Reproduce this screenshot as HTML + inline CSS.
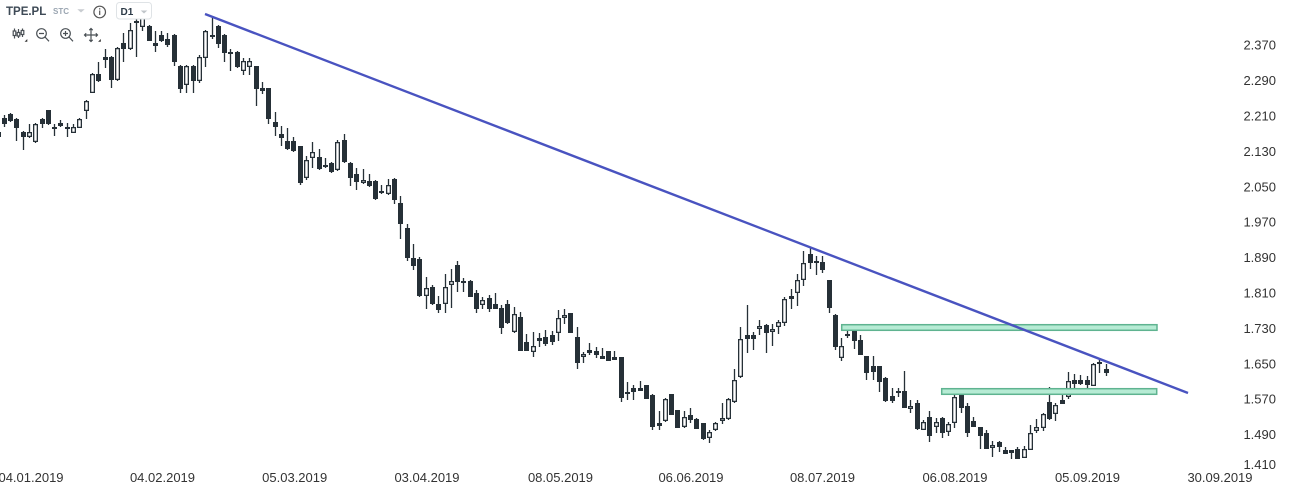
<!DOCTYPE html>
<html>
<head>
<meta charset="utf-8">
<style>
html,body{margin:0;padding:0;background:#fff;}
body{width:1298px;height:491px;overflow:hidden;position:relative;font-family:"Liberation Sans",Arial,sans-serif;}
svg{position:absolute;left:0;top:0;}
</style>
</head>
<body>
<svg width="1298" height="491" viewBox="0 0 1298 491" xmlns="http://www.w3.org/2000/svg">
<rect x="0" y="0" width="1298" height="491" fill="#fff"/>

<!-- wicks -->
<path fill="none" stroke="#263037" stroke-width="1.3" d="M-1.5 130V139M4.5 115V127M10.5 113V122M16.5 118V141M23.5 131V150M29.5 124V138M35.5 123V143M42.5 118V128M48.5 110V125M54.5 124V136M60.5 120V127M67.5 123V137M73.5 124V133M79.5 118V128M86.5 100V119M92.5 73V93M98.5 62V82M105.5 49V68M111.5 56V88M117.5 47V81M123.5 33V62M130.5 23V50M136.5 17V57M142.5 15V31M149.5 25V41M155.5 31V52M161.5 31V42M167.5 33V47M174.5 34V66M180.5 65V93M186.5 65V93M193.5 65V93M199.5 55V83M205.5 30V67M212.5 18V39M218.5 25V48M224.5 34V62M230.5 49V71M237.5 51V68M243.5 58V75M249.5 58V75M256.5 66V106M262.5 82V94M268.5 88V124M275.5 112V136M281.5 126V146M287.5 128V150M293.5 137V152M300.5 146V185M306.5 156V180M312.5 142V168M319.5 149V170M325.5 158V168M331.5 162V173M337.5 140V171M344.5 134V163M350.5 162V186M356.5 168V190M363.5 169V184M369.5 174V187M375.5 180V200M381.5 185V194M388.5 179V195M394.5 178V204M400.5 196V239M407.5 224V261M413.5 244V270M419.5 257V297M426.5 277V309M432.5 285V305M438.5 296V313M445.5 274V313M451.5 269V308M457.5 261V292M463.5 278V292M470.5 280V297M476.5 290V313M482.5 297V309M489.5 295V312M495.5 293V309M501.5 305V334M507.5 300V324M514.5 307V333M520.5 312V351M526.5 334V351M533.5 332V357M539.5 333V347M545.5 330V346M552.5 331V345M558.5 310V341M564.5 309V324M570.5 313V333M577.5 327V369M583.5 352V363M589.5 343V355M596.5 347V358M602.5 348V359M608.5 351V361M614.5 351V360M621.5 357V402M627.5 382V400M633.5 385V400M640.5 381V391M646.5 385V399M652.5 394V430M659.5 411V430M665.5 398V422M671.5 394V415M677.5 410V428M684.5 411V428M690.5 408V423M696.5 418V429M703.5 423V440M709.5 430V443M715.5 422V431M722.5 403V424M728.5 398V420M734.5 369V403M740.5 327V378M747.5 305V353M753.5 332V350M759.5 320V335M766.5 324V353M772.5 324V346M778.5 320V334M784.5 297V326M791.5 289V309M797.5 274V306M803.5 251V286M810.5 247V269M816.5 256V275M822.5 256V273M829.5 280V313M835.5 314V350M841.5 338V361M847.5 329V338M854.5 330V349M860.5 335V355M866.5 356V380M873.5 356V380M879.5 366V392M885.5 377V402M892.5 388V403M898.5 388V397M904.5 371V408M910.5 400V413M917.5 400V430M923.5 420V430M929.5 411V442M936.5 418V433M942.5 417V438M948.5 422V436M954.5 393V428M961.5 389V413M967.5 403V437M973.5 417V427M980.5 427V449M986.5 430V449M992.5 441V457M999.5 441V452M1005.5 447V454M1011.5 450V459M1017.5 447V459M1024.5 446V458M1030.5 425V450M1036.5 419V433M1043.5 413V431M1049.5 387V420M1055.5 403V421M1062.5 394V404M1068.5 372V399M1074.5 374V388M1080.5 375V385M1087.5 376V393M1093.5 363V386M1099.5 359V373M1106.5 364V376"/>

<!-- bearish bodies -->
<path fill="#263037" d="M-4 132h5v5h-5zM2 118h5v6h-5zM8 114h5v7h-5zM14 119h5v9h-5zM21 132h5v5h-5zM40 119h5v5h-5zM46 110h5v14h-5zM52 127h5v2h-5zM58 123h5v3h-5zM65 127h5v2h-5zM96 74h5v7h-5zM103 57h5v3h-5zM109 57h5v23h-5zM121 43h5v6h-5zM134 21h5v2h-5zM147 26h5v15h-5zM153 43h5v3h-5zM159 35h5v6h-5zM165 39h5v6h-5zM172 35h5v27h-5zM178 66h5v23h-5zM191 66h5v15h-5zM210 35h5v2h-5zM216 26h5v18h-5zM222 35h5v18h-5zM228 52h5v2h-5zM235 52h5v15h-5zM254 66h5v23h-5zM260 88h5v3h-5zM266 88h5v31h-5zM273 122h5v5h-5zM279 134h5v4h-5zM285 141h5v8h-5zM291 141h5v10h-5zM298 146h5v37h-5zM317 157h5v12h-5zM329 163h5v9h-5zM342 140h5v22h-5zM348 163h5v15h-5zM354 174h5v8h-5zM367 181h5v5h-5zM373 181h5v18h-5zM379 191h5v2h-5zM392 179h5v21h-5zM398 203h5v21h-5zM405 228h5v30h-5zM411 258h5v8h-5zM417 259h5v37h-5zM430 287h5v17h-5zM436 304h5v6h-5zM455 265h5v17h-5zM468 281h5v16h-5zM474 293h5v16h-5zM487 298h5v11h-5zM493 304h5v5h-5zM499 308h5v20h-5zM505 304h5v19h-5zM518 317h5v34h-5zM524 342h5v9h-5zM537 338h5v3h-5zM543 337h5v7h-5zM550 335h5v7h-5zM568 313h5v20h-5zM575 337h5v26h-5zM587 350h5v3h-5zM594 351h5v4h-5zM600 356h5v3h-5zM606 351h5v10h-5zM612 357h5v3h-5zM619 357h5v41h-5zM631 388h5v4h-5zM638 388h5v3h-5zM644 385h5v14h-5zM650 395h5v32h-5zM657 423h5v3h-5zM669 394h5v21h-5zM675 410h5v18h-5zM688 415h5v5h-5zM694 419h5v10h-5zM701 423h5v16h-5zM745 335h5v4h-5zM751 335h5v4h-5zM764 325h5v8h-5zM789 296h5v3h-5zM808 254h5v9h-5zM814 261h5v2h-5zM820 262h5v8h-5zM827 280h5v28h-5zM833 315h5v32h-5zM852 330h5v11h-5zM858 340h5v15h-5zM864 356h5v17h-5zM871 366h5v6h-5zM877 366h5v16h-5zM883 378h5v23h-5zM890 396h5v5h-5zM896 391h5v2h-5zM902 391h5v17h-5zM915 403h5v26h-5zM927 417h5v19h-5zM940 418h5v15h-5zM959 395h5v13h-5zM965 406h5v27h-5zM971 421h5v6h-5zM978 427h5v9h-5zM984 433h5v16h-5zM997 442h5v5h-5zM1003 450h5v4h-5zM1009 450h5v3h-5zM1015 449h5v10h-5zM1047 402h5v17h-5zM1060 400h5v4h-5zM1072 380h5v4h-5zM1078 380h5v4h-5zM1085 380h5v5h-5zM1097 362h5v2h-5zM1104 369h5v4h-5z"/>

<!-- bullish (hollow) bodies -->
<path fill="#fff" stroke="#263037" stroke-width="1.3" d="M27.65 132.65h3.7v3.7h-3.7zM33.65 124.65h3.7v16.7h-3.7zM71.65 127.65h3.7v4.7h-3.7zM77.65 119.65h3.7v7.7h-3.7zM84.65 101.65h3.7v8.7h-3.7zM90.65 74.65h3.7v17.7h-3.7zM115.65 48.65h3.7v30.7h-3.7zM128.65 30.65h3.7v17.7h-3.7zM140.65 17.65h3.7v8.7h-3.7zM184.65 66.65h3.7v17.7h-3.7zM197.65 57.65h3.7v22.7h-3.7zM203.65 31.65h3.7v25.7h-3.7zM241.65 61.65h3.7v8.7h-3.7zM247.65 61.65h3.7v4.7h-3.7zM304.65 160.65h3.7v16.7h-3.7zM310.65 152.65h3.7v4.7h-3.7zM323.65 165.65h3.7v0.7h-3.7zM335.65 142.65h3.7v26.7h-3.7zM361.65 180.65h3.7v1.7h-3.7zM386.65 185.65h3.7v7.7h-3.7zM424.65 288.65h3.7v6.7h-3.7zM443.65 287.65h3.7v15.7h-3.7zM449.65 281.65h3.7v2.7h-3.7zM461.65 281.65h3.7v0.7h-3.7zM480.65 300.65h3.7v3.7h-3.7zM512.65 314.65h3.7v16.7h-3.7zM531.65 346.65h3.7v4.7h-3.7zM556.65 318.65h3.7v13.7h-3.7zM562.65 315.65h3.7v1.7h-3.7zM581.65 354.65h3.7v1.7h-3.7zM625.65 392.65h3.7v0.7h-3.7zM663.65 399.65h3.7v20.7h-3.7zM682.65 417.65h3.7v8.7h-3.7zM707.65 432.65h3.7v4.7h-3.7zM713.65 423.65h3.7v5.7h-3.7zM720.65 418.65h3.7v1.7h-3.7zM726.65 399.65h3.7v18.7h-3.7zM732.65 380.65h3.7v20.7h-3.7zM738.65 339.65h3.7v36.7h-3.7zM757.65 326.65h3.7v1.7h-3.7zM770.65 329.65h3.7v1.7h-3.7zM776.65 322.65h3.7v3.7h-3.7zM782.65 299.65h3.7v22.7h-3.7zM795.65 280.65h3.7v11.7h-3.7zM801.65 263.65h3.7v15.7h-3.7zM839.65 346.65h3.7v10.7h-3.7zM845.65 334.65h3.7v0.7h-3.7zM908.65 406.65h3.7v1.7h-3.7zM921.65 422.65h3.7v6.7h-3.7zM934.65 422.65h3.7v3.7h-3.7zM946.65 424.65h3.7v6.7h-3.7zM952.65 397.65h3.7v24.7h-3.7zM990.65 445.65h3.7v1.7h-3.7zM1022.65 449.65h3.7v7.7h-3.7zM1028.65 433.65h3.7v15.7h-3.7zM1034.65 427.65h3.7v2.7h-3.7zM1041.65 414.65h3.7v12.7h-3.7zM1053.65 405.65h3.7v7.7h-3.7zM1066.65 381.65h3.7v14.7h-3.7zM1091.65 364.65h3.7v20.7h-3.7z"/>

<!-- zones -->
<rect x="841.7" y="324.7" width="315.3" height="5.6" fill="#b6ebd4" stroke="#5fb390" stroke-width="1.5"/>
<rect x="941.7" y="388.7" width="215" height="5.6" fill="#b6ebd4" stroke="#5fb390" stroke-width="1.5"/>

<!-- trend line -->
<line x1="205" y1="14" x2="1188" y2="393" stroke="#4953c0" stroke-width="2.4"/>

<!-- y axis labels -->
<g font-family="Liberation Sans, Arial, sans-serif" font-size="13" fill="#333" text-anchor="end">
<text x="1276" y="49.7">2.370</text>
<text x="1276" y="85.1">2.290</text>
<text x="1276" y="120.5">2.210</text>
<text x="1276" y="155.9">2.130</text>
<text x="1276" y="191.3">2.050</text>
<text x="1276" y="226.7">1.970</text>
<text x="1276" y="262.1">1.890</text>
<text x="1276" y="297.5">1.810</text>
<text x="1276" y="332.9">1.730</text>
<text x="1276" y="368.3">1.650</text>
<text x="1276" y="403.7">1.570</text>
<text x="1276" y="439.1">1.490</text>
<text x="1276" y="469">1.410</text>
</g>

<!-- x axis labels -->
<g font-family="Liberation Sans, Arial, sans-serif" font-size="13" fill="#333" text-anchor="middle">
<text x="31" y="482">04.01.2019</text>
<text x="162.5" y="482">04.02.2019</text>
<text x="294.7" y="482">05.03.2019</text>
<text x="427" y="482">03.04.2019</text>
<text x="560.5" y="482">08.05.2019</text>
<text x="691" y="482">06.06.2019</text>
<text x="822.5" y="482">08.07.2019</text>
<text x="955" y="482">06.08.2019</text>
<text x="1087.5" y="482">05.09.2019</text>
<text x="1220" y="482">30.09.2019</text>
</g>

<!-- header -->
<text x="6" y="15.2" font-family="Liberation Sans, Arial, sans-serif" font-size="11.5" font-weight="bold" fill="#3e4a56">TPE.PL</text>
<text x="53" y="13.8" font-family="Liberation Sans, Arial, sans-serif" font-size="8" font-weight="bold" fill="#9aa5b1">STC</text>
<path d="M77.3 9.3h7.4l-3.7 3.2z" fill="#c8ccd0"/>
<circle cx="99.7" cy="12" r="5.8" fill="none" stroke="#555" stroke-width="1.2"/>
<rect x="99.1" y="10.5" width="1.2" height="4.5" fill="#555"/>
<rect x="99.1" y="8.2" width="1.2" height="1.3" fill="#555"/>
<rect x="116.5" y="2.5" width="35" height="16.5" rx="3" ry="3" fill="#fff" stroke="#dfe3e6" stroke-width="1"/>
<text x="120.5" y="15" font-family="Liberation Sans, Arial, sans-serif" font-size="10" font-weight="bold" fill="#2c3a47">D1</text>
<path d="M140.7 10.5h6.6l-3.3 3z" fill="#c0c5c9"/>

<!-- toolbar icons -->
<g fill="none" stroke="#4a5055" stroke-width="1.2">
  <!-- candles icon -->
  <path d="M14.5 28.5V38.5M18.5 29V38M22.5 28.5V37"/>
  <rect x="13.2" y="31" width="2.6" height="4.5" fill="#fff"/>
  <rect x="17.2" y="32.5" width="2.6" height="3.5" fill="#fff"/>
  <rect x="21.2" y="30.5" width="2.6" height="4" fill="#fff"/>
  <!-- zoom out -->
  <circle cx="41.5" cy="33.5" r="4.8"/>
  <path d="M39 33.5h5M45 37l4 4.3"/>
  <!-- zoom in -->
  <circle cx="65.5" cy="33.5" r="4.8"/>
  <path d="M63 33.5h5M65.5 31v5M69 37l4 4.3"/>
  <!-- move -->
  <path d="M91 28.5v13M84.5 35h13"/>
  <path d="M89.3 30.2L91 28.5l1.7 1.7M89.3 39.8L91 41.5l1.7-1.7M86.2 33.3L84.5 35l1.7 1.7M95.8 33.3L97.5 35l-1.7 1.7"/>
</g>
<path d="M27.3 39v2.7h-2.7z" fill="#333"/>
<path d="M100.8 39v2.7h-2.7z" fill="#333"/>
</svg>
</body>
</html>
